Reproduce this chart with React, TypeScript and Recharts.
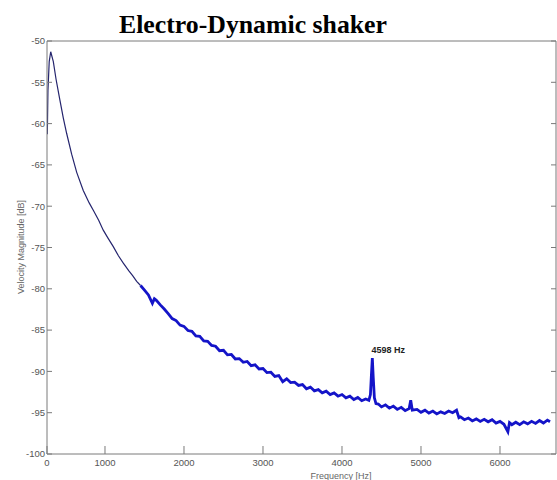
import React from 'react';
import { LineChart, Line, XAxis, YAxis, ReferenceDot } from 'recharts';

// frequency axis (Hz as drawn; the first tick is printed as "0")
const xTicks = [266, 1000, 2000, 3000, 4000, 5000, 6000];
const xTickLabels = ['0', '1000', '2000', '3000', '4000', '5000', '6000'];
const topTicks = [1266, 2266, 3266, 4266, 5266, 6266];
const yTicks = [-100, -95, -90, -85, -80, -75, -70, -65, -60, -55, -50];

// spectrum
const freq = [
  270, 278, 294, 313, 346, 380, 430, 472, 515, 578, 642, 725, 800, 852, 920, 978, 1040, 1105, 1170, 1232,
  1300, 1350, 1401, 1450, 1500, 1550, 1600, 1625, 1650, 1700, 1750, 1800, 1850, 1900, 1950, 2000, 2050, 2100,
  2150, 2200, 2250, 2300, 2350, 2400, 2450, 2500, 2550, 2600, 2650, 2700, 2750, 2800, 2850, 2900, 2950, 3000,
  3050, 3100, 3150, 3200, 3250, 3300, 3350, 3400, 3450, 3500, 3550, 3600, 3650, 3700, 3750, 3800, 3850, 3900,
  3950, 4000, 4050, 4100, 4150, 4200, 4250, 4300, 4340, 4360, 4372, 4384, 4396, 4410, 4430, 4460, 4500, 4550,
  4600, 4650, 4700, 4750, 4800, 4850, 4870, 4890, 4950, 5000, 5050, 5100, 5150, 5200, 5250, 5300, 5350, 5400,
  5450, 5480, 5500, 5550, 5600, 5650, 5700, 5750, 5800, 5850, 5900, 5950, 6000, 6050, 6100, 6120, 6150, 6200,
  6250, 6300, 6350, 6400, 6450, 6500, 6550, 6600, 6633,
];
const mag = [
  -61.3, -56.0, -52.5, -51.3, -52.5, -54.6, -57.2, -59.3, -61.2, -63.7, -65.9, -68.1, -69.6, -70.5, -71.7, -72.9, -73.9, -74.9, -76.0, -76.9,
  -77.8, -78.4, -79.1, -79.6, -80.15, -80.75, -81.75, -81.2, -81.4, -81.95, -82.45, -83.0, -83.6, -83.85, -84.4, -84.55, -85.05, -85.15,
  -85.7, -85.75, -86.3, -86.35, -86.85, -86.95, -87.5, -87.45, -88.0, -87.95, -88.5, -88.45, -88.9, -88.8, -89.3, -89.2, -89.7, -89.65,
  -90.15, -90.1, -90.6, -90.5, -91.25, -90.9, -91.35, -91.3, -91.7, -91.6, -92.1, -91.9, -92.35, -92.2, -92.6, -92.4, -92.8, -92.6,
  -93.0, -92.8, -93.2, -93.0, -93.4, -93.15, -93.55, -93.35, -93.5, -92.8, -90.5, -88.4, -90.8, -93.2, -93.9, -93.95, -94.3, -94.05,
  -94.45, -94.2, -94.6, -94.35, -94.75, -94.5, -93.5, -94.7, -94.6, -94.95, -94.7, -95.05, -94.8, -95.15, -94.9, -95.1, -94.8, -95.0,
  -94.7, -95.6, -95.5, -95.85, -95.65, -96.0, -95.75, -96.05, -95.8, -96.1, -95.85, -96.25, -96.05, -96.4, -97.3, -96.2, -96.45, -96.15,
  -96.45, -96.1, -96.35, -96.05, -96.3, -95.95, -96.25, -95.9, -96.1,
];
const SPLIT_HZ = 1450; // smooth low-frequency part vs noisy part
const PEAK_HZ = 4384;
const PEAK_DB = -88.4;

const data = freq.map((f, i) => ({
  f,
  smooth: f <= SPLIT_HZ ? mag[i] : null,
  noisy: f >= SPLIT_HZ ? mag[i] : null,
}));

const axisGray = '#7a7a7a';
const tickFont = { fontSize: 9.5, fill: '#555', fontFamily: "'Liberation Sans Narrow', 'Arial Narrow', 'Liberation Sans', sans-serif" };

export default function App() {
  return (
    <div style={{ position: 'absolute', left: 0, top: 0, width: 557, height: 480, background: '#fff' }}>
      <LineChart width={557} height={480} data={data} margin={{ top: 40, right: 0, bottom: 0, left: 0 }}>
        <XAxis
          xAxisId="b"
          dataKey="f"
          type="number"
          domain={[266, 6709]}
          allowDataOverflow
          ticks={xTicks}
          tickFormatter={(v: number) => xTickLabels[xTicks.indexOf(v)] ?? String(v)}
          height={26}
          stroke={axisGray}
          tickSize={-8}
          tickMargin={13}
          tick={tickFont}
        />
        <XAxis
          xAxisId="t"
          orientation="top"
          type="number"
          domain={[266, 6709]}
          allowDataOverflow
          ticks={topTicks}
          tickFormatter={() => ''}
          height={1}
          stroke={axisGray}
          tickSize={-8}
        />
        <YAxis
          yAxisId="l"
          type="number"
          domain={[-100, -50]}
          allowDataOverflow
          ticks={yTicks}
          width={47}
          stroke={axisGray}
          tickSize={-5}
          tickMargin={7}
          tick={tickFont}
        />
        <YAxis
          yAxisId="r"
          orientation="right"
          type="number"
          domain={[-100, -50]}
          allowDataOverflow
          ticks={yTicks}
          tickFormatter={() => ''}
          width={1}
          stroke={axisGray}
          tickSize={-5}
        />
        <Line
          xAxisId="b"
          yAxisId="l"
          dataKey="smooth"
          type="linear"
          stroke="#25256e"
          strokeWidth={1.2}
          dot={false}
          isAnimationActive={false}
        />
        <Line
          xAxisId="b"
          yAxisId="l"
          dataKey="noisy"
          type="linear"
          stroke="#1414c8"
          strokeWidth={2.8}
          dot={false}
          isAnimationActive={false}
        />
        <ReferenceDot
          xAxisId="b"
          yAxisId="l"
          x={PEAK_HZ}
          y={PEAK_DB}
          r={0}
          label={{ value: '4598 Hz', position: 'top', offset: 5, dx: 16, fontSize: 9, fontWeight: 'bold', fill: '#222', fontFamily: "'Liberation Sans', sans-serif" }}
        />
      </LineChart>
      <svg width={557} height={480} style={{ position: 'absolute', left: 0, top: 0, pointerEvents: 'none' }}>
        <text x={253} y={33} textAnchor="middle" fontFamily="'Liberation Serif', serif" fontWeight="bold" fontSize={25} textLength={268} lengthAdjust="spacingAndGlyphs" fill="#000">
          Electro-Dynamic shaker
        </text>
        <text x={0} y={0} transform="translate(24 247) rotate(-90)" textAnchor="middle" fontSize={9} fill="#666" fontFamily="'Liberation Sans', sans-serif">
          Velocity Magnitude [dB]
        </text>
        <text x={341} y={479} textAnchor="middle" fontSize={9} fill="#666" fontFamily="'Liberation Sans', sans-serif">
          Frequency [Hz]
        </text>
      </svg>
    </div>
  );
}
